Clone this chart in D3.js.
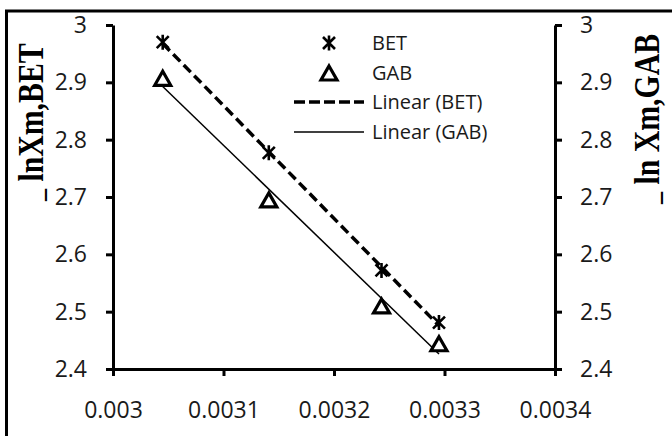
<!DOCTYPE html>
<html>
<head>
<meta charset="utf-8">
<script src="https://cdn.jsdelivr.net/npm/d3@7"></script>
<style>
  body { margin: 0; background: #fff; }
  svg { display: block; }
  .tick text { font-family: "Open Sans", sans-serif; font-size: 23px; fill: #1a1a1a; }
</style>
</head>
<body>
<div id="chart"></div>
<script>
// reciprocal temperature (1/K) and ln Xm for both models
var invT = [0.003045, 0.003141, 0.003243, 0.003295];
var lnXmBET = [2.970, 2.777, 2.572, 2.481];
var lnXmGAB = [2.907, 2.695, 2.510, 2.444];

var xTicks = [0.003, 0.0031, 0.0032, 0.0033, 0.0034];
var xTickLabels = ["0.003", "0.0031", "0.0032", "0.0033", "0.0034"];
var yTicks = [2.4, 2.5, 2.6, 2.7, 2.8, 2.9, 3];
var yTickLabels = ["2.4", "2.5", "2.6", "2.7", "2.8", "2.9", "3"];

var legendLabels = ["BET", "GAB", "Linear (BET)", "Linear (GAB)"];

var width = 672, height = 436;

var svg = d3.select("#chart").append("svg")
  .attr("width", width)
  .attr("height", height);

// outer frame (runs off the right and bottom edges)
svg.append("rect")
  .attr("x", 6.5).attr("y", 11)
  .attr("width", 700).attr("height", 460)
  .attr("fill", "none")
  .attr("stroke", "#000")
  .attr("stroke-width", 3);

var x = d3.scaleLinear().domain([0.003, 0.0034]).range([113, 555]);
var y = d3.scaleLinear().domain([2.4, 3]).range([369, 25]);

function styleAxis(g) {
  g.select(".domain").attr("stroke", "#000").attr("stroke-width", 3).attr("fill", "none");
  g.selectAll(".tick line").attr("stroke", "#000").attr("stroke-width", 3);
}

svg.append("g")
  .attr("transform", "translate(0," + y(2.4) + ")")
  .call(d3.axisBottom(x).tickValues(xTicks)
    .tickFormat(function (d, i) { return xTickLabels[i]; })
    .tickSize(7).tickSizeOuter(0).tickPadding(26))
  .call(styleAxis);

svg.append("g")
  .attr("transform", "translate(" + x(0.003) + ",0)")
  .call(d3.axisLeft(y).tickValues(yTicks)
    .tickFormat(function (d, i) { return yTickLabels[i]; })
    .tickSize(7).tickSizeOuter(0).tickPadding(19))
  .call(styleAxis);

svg.append("g")
  .attr("transform", "translate(" + x(0.0034) + ",0)")
  .call(d3.axisRight(y).tickValues(yTicks)
    .tickFormat(function (d, i) { return yTickLabels[i]; })
    .tickSize(7).tickSizeOuter(0).tickPadding(18))
  .call(styleAxis);

// axis titles (tall, condensed bold serif with a short underscore in front)
function axisTitle(tx, ty, label) {
  var t = svg.append("text")
    .attr("transform", "translate(" + tx + "," + ty + ") rotate(-90) scale(0.93,1.12)")
    .attr("font-family", "'Liberation Serif', serif")
    .attr("font-weight", "bold")
    .attr("font-size", 32);
  t.append("tspan").attr("font-size", 26).text("_");
  t.append("tspan").attr("dx", 8).text(label);
}
axisTitle(43, 201, "lnXm,BET");
axisTitle(659, 204, "ln Xm,GAB");

// least-squares trend lines
function fit(xs, ys) {
  var mx = d3.mean(xs), my = d3.mean(ys);
  var sxy = 0, sxx = 0;
  for (var i = 0; i < xs.length; i++) {
    sxy += (xs[i] - mx) * (ys[i] - my);
    sxx += (xs[i] - mx) * (xs[i] - mx);
  }
  var b = sxy / sxx;
  return function (v) { return my + b * (v - mx); };
}

var ends = d3.extent(invT);
var fBET = fit(invT, lnXmBET);
var fGAB = fit(invT, lnXmGAB);

var line = d3.line()
  .x(function (d) { return x(d); });

svg.append("path")
  .datum(ends)
  .attr("d", line.y(function (d) { return y(fBET(d)); }))
  .attr("fill", "none")
  .attr("stroke", "#000")
  .attr("stroke-width", 3.5)
  .attr("stroke-dasharray", "10,5");

svg.append("path")
  .datum(ends)
  .attr("d", line.y(function (d) { return y(fGAB(d)); }))
  .attr("fill", "none")
  .attr("stroke", "#000")
  .attr("stroke-width", 1.5);

// markers
function asterisk(g, cx, cy) {
  var s = 7.5;
  g.append("path")
    .attr("d", "M" + cx + "," + (cy - s) + "V" + (cy + s) +
      "M" + (cx - s * 0.8) + "," + (cy - s * 0.8) + "L" + (cx + s * 0.8) + "," + (cy + s * 0.8) +
      "M" + (cx + s * 0.8) + "," + (cy - s * 0.8) + "L" + (cx - s * 0.8) + "," + (cy + s * 0.8))
    .attr("stroke", "#000")
    .attr("stroke-width", 2.6)
    .attr("fill", "none");
}

function triangle(g, cx, cy) {
  var w = 8, h = 7;
  g.append("path")
    .attr("d", "M" + cx + "," + (cy - h) + "L" + (cx + w) + "," + (cy + h) +
      "L" + (cx - w) + "," + (cy + h) + "Z")
    .attr("stroke", "#000")
    .attr("stroke-width", 3.2)
    .attr("stroke-linejoin", "miter")
    .attr("fill", "#fff");
}

var marks = svg.append("g");
invT.forEach(function (t, i) {
  triangle(marks, x(t), y(lnXmGAB[i]));
  asterisk(marks, x(t), y(lnXmBET[i]));
});

// legend
var legend = svg.append("g");
var rowY = [43, 73, 102, 132];
asterisk(legend, 329, rowY[0]);
triangle(legend, 329, rowY[1]);
legend.append("line")
  .attr("x1", 294).attr("x2", 364).attr("y1", rowY[2]).attr("y2", rowY[2])
  .attr("stroke", "#000").attr("stroke-width", 3.5).attr("stroke-dasharray", "11,4");
legend.append("line")
  .attr("x1", 294).attr("x2", 364).attr("y1", rowY[3]).attr("y2", rowY[3])
  .attr("stroke", "#000").attr("stroke-width", 1.5);

legend.selectAll("text.leg")
  .data(legendLabels)
  .enter().append("text")
  .attr("class", "leg")
  .attr("x", 372)
  .attr("y", function (d, i) { return rowY[i]; })
  .attr("dy", "0.36em")
  .attr("font-family", "'Open Sans', sans-serif")
  .attr("font-size", 20)
  .attr("fill", "#1a1a1a")
  .text(function (d) { return d; });
</script>
</body>
</html>
